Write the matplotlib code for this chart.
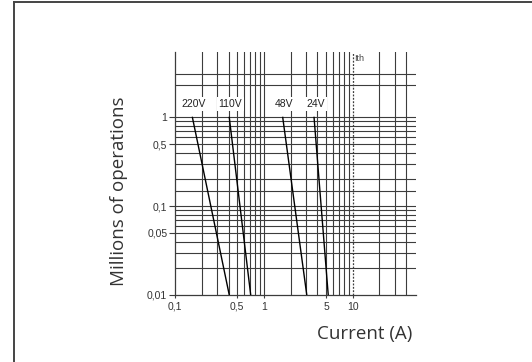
import matplotlib
matplotlib.use("Agg")
import matplotlib.pyplot as plt
from matplotlib.lines import Line2D

# Electrical life: current (A) at 1 million and at 0.01 million operations
voltages = ["220V", "110V", "48V", "24V"]
current_at_1M = [0.157, 0.408, 1.63, 3.67]
current_at_001M = [0.408, 0.711, 3.04, 5.3]
ops = [1, 0.01]

x_ticks = [0.1, 0.5, 1, 5, 10]
x_ticklabels = ["0,1", "0,5", "1", "5", "10"]
y_ticks = [0.01, 0.05, 0.1, 0.5, 1]
y_ticklabels = ["0,01", "0,05", "0,1", "0,5", "1"]
ith = 10

# chart grid (printed log paper)
x_grid = [0.2, 0.3, 0.4, 0.5, 0.6, 0.7, 0.8, 0.9, 1, 2, 3, 4, 5, 6, 7, 8, 9, 20, 30, 40]
y_grid = [0.02, 0.03, 0.04, 0.05, 0.06, 0.07, 0.08, 0.09, 0.1, 0.15, 0.2, 0.3, 0.4,
          0.5, 0.6, 0.7, 0.8, 0.9, 1, 2.3, 3.1]

W, H = 532, 362
fig = plt.figure(figsize=(W / 100, H / 100), dpi=100)
ax = fig.add_axes([175 / W, 1 - 295 / H, (416 - 175) / W, (295 - 51.7) / H])
ax.set_xscale("log")
ax.set_yscale("log")
ax.set_xlim(0.1, 51.5)
ax.set_ylim(0.01, 5.5)

gc = "#3c3c3c"
for v in x_grid:
    ax.axvline(v, color=gc, lw=0.8, zorder=1)
for v in y_grid:
    ax.axhline(v, color=gc, lw=0.8, zorder=1)
ax.axvline(ith, color=gc, lw=0.9, ls=(0, (1.5, 1.2)), zorder=1)
ax.text(ith * 1.04, 4.6, "Ith", fontsize=6.5, family="Liberation Sans", color="#444",
        ha="left", va="center")

for name, a, b in zip(voltages, current_at_1M, current_at_001M):
    ax.plot([a, b], ops, color="black", lw=1.0, zorder=3)
    ax.text(a * 1.03, 1.25, name, fontsize=7.5, family="Liberation Sans", color="#222",
            ha="center", va="bottom", zorder=4,
            bbox=dict(facecolor="white", edgecolor="none", pad=1.5))

ax.set_xticks(x_ticks)
ax.set_xticklabels(x_ticklabels)
ax.set_yticks(y_ticks)
ax.set_yticklabels(y_ticklabels)
ax.minorticks_off()
ax.tick_params(axis="x", length=2, width=0.8, color=gc, pad=3, labelsize=7.5, labelcolor="#333")
ax.tick_params(axis="y", length=4, width=0.8, color=gc, pad=1.5, labelsize=7.5, labelcolor="#333")
for lbl in ax.get_xticklabels() + ax.get_yticklabels():
    lbl.set_family("Liberation Sans")

for s in ["top", "right"]:
    ax.spines[s].set_visible(False)
for s in ["left", "bottom"]:
    ax.spines[s].set_color(gc)
    ax.spines[s].set_linewidth(0.9)

fig.text(119 / W, 1 - 191.5 / H, "Millions of operations", rotation=90, fontsize=13.5,
         family="Open Sans", color="#333", ha="center", va="center")
fig.text(365 / W, 1 - 334 / H, "Current (A)", fontsize=13.5, family="Open Sans",
         color="#333", ha="center", va="center")

# outer frame (left and top edges)
fig.add_artist(Line2D([13.5 / W, 13.5 / W], [0, 1 - 1.5 / H], color="#444", lw=1.4))
fig.add_artist(Line2D([13.5 / W, 1], [1 - 1.5 / H, 1 - 1.5 / H], color="#444", lw=1.4))

fig.savefig("out.png", dpi=100)
